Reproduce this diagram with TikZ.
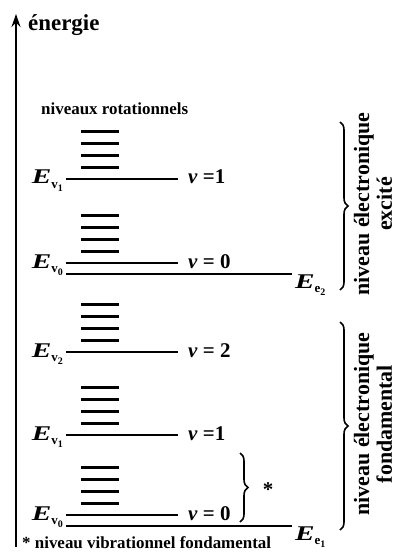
\documentclass[tikz,border=0pt]{standalone}
\usepackage{fontspec}
\setmainfont{Liberation Serif}
\usetikzlibrary{positioning,calc}
\usetikzlibrary{arrows.meta,decorations.pathreplacing}
\tikzset{
  vib/.style={draw=black,line width=2.8bp},
  rot/.style={draw=black,line width=2.8bp},
  lab/.style={inner sep=0pt,font=\fontsize{17}{20}\selectfont\bfseries},
  big/.style={inner sep=0pt,font=\fontsize{21}{24}\selectfont\bfseries},
  side/.style={inner sep=0pt,rotate=90,align=center,font=\fontsize{22}{23}\selectfont\bfseries},
  brc/.style={draw=black,line width=1.6bp,decorate,decoration={brace,amplitude=8bp}},
}
\newcommand{\Elab}[2]{\scalebox{1.4}[1]{\textit{E}}\raisebox{-0.5ex}{\fontsize{13}{13}\selectfont #1\raisebox{-0.4ex}{\fontsize{10}{10}\selectfont #2}}}

\begin{document}
\begin{tikzpicture}[x=1bp,y=-1bp]
\useasboundingbox (0,0) rectangle (396,553);
\coordinate (a0) at (16,547);
\coordinate (a1) at (16,14);
\draw[line width=2bp,-{Stealth[length=13bp,width=9bp]}] (a0)--(a1);
\node[big,anchor=base west,font=\fontsize{23}{26}\selectfont\bfseries] (en) at (28,31) {énergie};
\node[lab,anchor=base west] (rt) at (41,115) {niveaux rotationnels};
% niveaux vibrationnels
\coordinate (w1) at (66,179);
\coordinate (w2) at (66,263);
\coordinate (w3) at (66,352);
\coordinate (w4) at (66,435);
\coordinate (w5) at (66,515);
\foreach \w in {w1,w2,w3,w4,w5}{
  \draw[vib] (\w) -- ++(112,0);
  \foreach \k in {1,2,3,4}
    \draw[rot] ($(\w)+(15,-\k*11.8)$) -- ++(38,0);
}
% niveaux electroniques
\coordinate (e2a) at (66,274);
\coordinate (e2b) at (292,274);
\coordinate (e1a) at (66,526);
\coordinate (e1b) at (292,526);
\draw[vib] (e2a)--(e2b);
\draw[vib] (e1a)--(e1b);
\node[big,anchor=base east] (ev1) at (63,184) {\Elab{v}{1}};
\node[big,anchor=base west] (nu1) at (188,184) {\textit{v} =1};
\node[big,anchor=base east] (ev0) at (63,268) {\Elab{v}{0}};
\node[big,anchor=base west] (nu0) at (188,268) {\textit{v} = 0};
\node[big,anchor=base west] (ee2) at (295,288) {\Elab{e}{2}};
\node[big,anchor=base east] (fv2) at (63,357) {\Elab{v}{2}};
\node[big,anchor=base west] (mu2) at (188,357) {\textit{v} = 2};
\node[big,anchor=base east] (fv1) at (63,440) {\Elab{v}{1}};
\node[big,anchor=base west] (mu1) at (188,440) {\textit{v} =1};
\node[big,anchor=base east] (fv0) at (63,520) {\Elab{v}{0}};
\node[big,anchor=base west] (mu0) at (188,520) {\textit{v} = 0};
\node[big,anchor=base west] (ee1) at (295,540) {\Elab{e}{1}};
% accolades
\coordinate (b1) at (340,122);
\coordinate (b2) at (340,290);
\coordinate (b3) at (340,322);
\coordinate (b4) at (340,530);
\coordinate (b5) at (240,453);
\coordinate (b6) at (240,522);
\draw[brc] (b1)--(b2);
\draw[brc] (b3)--(b4);
\draw[brc] (b5)--(b6);
\node[big] (st) at (268,490) {*};
\node[side] (exc) at (373,204) {niveau électronique\\excité};
\node[side] (fon) at (373,424) {niveau électronique\\fondamental};
\node[lab,anchor=base west] (fn) at (22,548) {* niveau vibrationnel fondamental};
\end{tikzpicture}
\end{document}
